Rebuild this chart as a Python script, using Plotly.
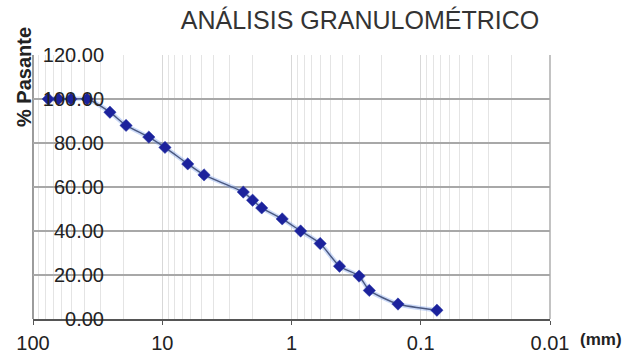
import plotly.graph_objects as go

# Sieve opening (mm) and cumulative percent passing
abertura_mm = [76.2, 63.5, 50.8, 38.1, 25.4, 19.05, 12.7, 9.525, 6.35, 4.75,
               2.36, 2.0, 1.7, 1.18, 0.85, 0.6, 0.425, 0.3, 0.25, 0.15, 0.075]
pasante = [100.0, 100.0, 100.0, 100.0, 94.0, 88.0, 82.7, 78.0, 70.5, 65.5,
           57.7, 54.0, 50.5, 45.5, 40.0, 34.3, 24.0, 19.5, 13.0, 6.8, 4.0]

x_ticks = [100, 10, 1, 0.1, 0.01]
x_tick_text = ["100", "10", "1", "0.1", "0.01"]
y_ticks = [0, 20, 40, 60, 80, 100, 120]

FONT = "Liberation Sans, Arial, sans-serif"
PLOT_W = 629 - 33 - 79
PLOT_H = 356 - 55 - 37

fig = go.Figure()

# soft halo under the curve
fig.add_trace(go.Scatter(
    x=abertura_mm, y=pasante, mode="lines",
    line=dict(color="rgba(110,150,235,0.35)", width=4.5, shape="spline", smoothing=0.6),
    hoverinfo="skip", showlegend=False,
))
fig.add_trace(go.Scatter(
    x=abertura_mm, y=pasante, mode="lines+markers",
    line=dict(color="#4a5880", width=1.4, shape="spline", smoothing=0.6),
    marker=dict(symbol="diamond", size=9.5, color="#1c229c",
                line=dict(color="#2a3aa8", width=0.5)),
    showlegend=False,
))

fig.update_layout(
    width=629, height=356,
    margin=dict(l=33, r=79, t=55, b=37),
    paper_bgcolor="white", plot_bgcolor="white",
    font=dict(family=FONT, color="#222"),
    title=dict(text="ANÁLISIS GRANULOMÉTRICO", x=360 / 629, xanchor="center",
               y=1 - 20 / 356, yanchor="middle", yref="container",
               font=dict(size=25, color="#333", family=FONT)),
)

fig.update_xaxes(
    type="log", range=[2, -2],
    tickvals=x_ticks, ticktext=x_tick_text,
    tickfont=dict(size=20, color="#222"),
    ticks="outside", ticklen=4, tickcolor="#555", ticklabelstandoff=1,
    showline=True, linecolor="#555", linewidth=1.5,
    showgrid=True, gridcolor="#d8d8d8", gridwidth=1,
    minor=dict(dtick="D1", showgrid=True, gridcolor="#e4e4e4", gridwidth=1, ticks=""),
    zeroline=False, automargin=False,
)
# value labels sit over the left part of the plot area, right-aligned
fig.update_yaxes(
    range=[0, 120], tickvals=y_ticks, tickformat=".2f",
    tickfont=dict(size=20, color="#222"),
    anchor="free", position=(104 - 33) / PLOT_W, ticks="", ticklabelstandoff=0,
    showline=False,
    showgrid=True, gridcolor="#a8a8a8", gridwidth=1.5,
    zeroline=False, automargin=False,
)

# left and right borders of the plot area
fig.add_shape(type="line", xref="paper", yref="paper", x0=0, x1=0, y0=0, y1=1,
              line=dict(color="#666", width=1.3), layer="below")
fig.add_shape(type="line", xref="paper", yref="paper", x0=1, x1=1, y0=0, y1=1,
              line=dict(color="#9a9a9a", width=1.2), layer="below")

# axis titles
fig.add_annotation(text="<b>% Pasante</b>", xref="paper", yref="paper",
                   x=-9 / PLOT_W, y=(319 - 77) / PLOT_H, textangle=-90,
                   xanchor="center", yanchor="middle", showarrow=False,
                   font=dict(size=20, color="#222", family=FONT))
fig.add_annotation(text="<b>(mm)</b>", xref="paper", yref="paper",
                   x=1 + 28 / PLOT_W, y=-20 / PLOT_H, xanchor="left", yanchor="middle",
                   showarrow=False, font=dict(size=17, color="#222", family=FONT))

fig.write_html("out.html")
